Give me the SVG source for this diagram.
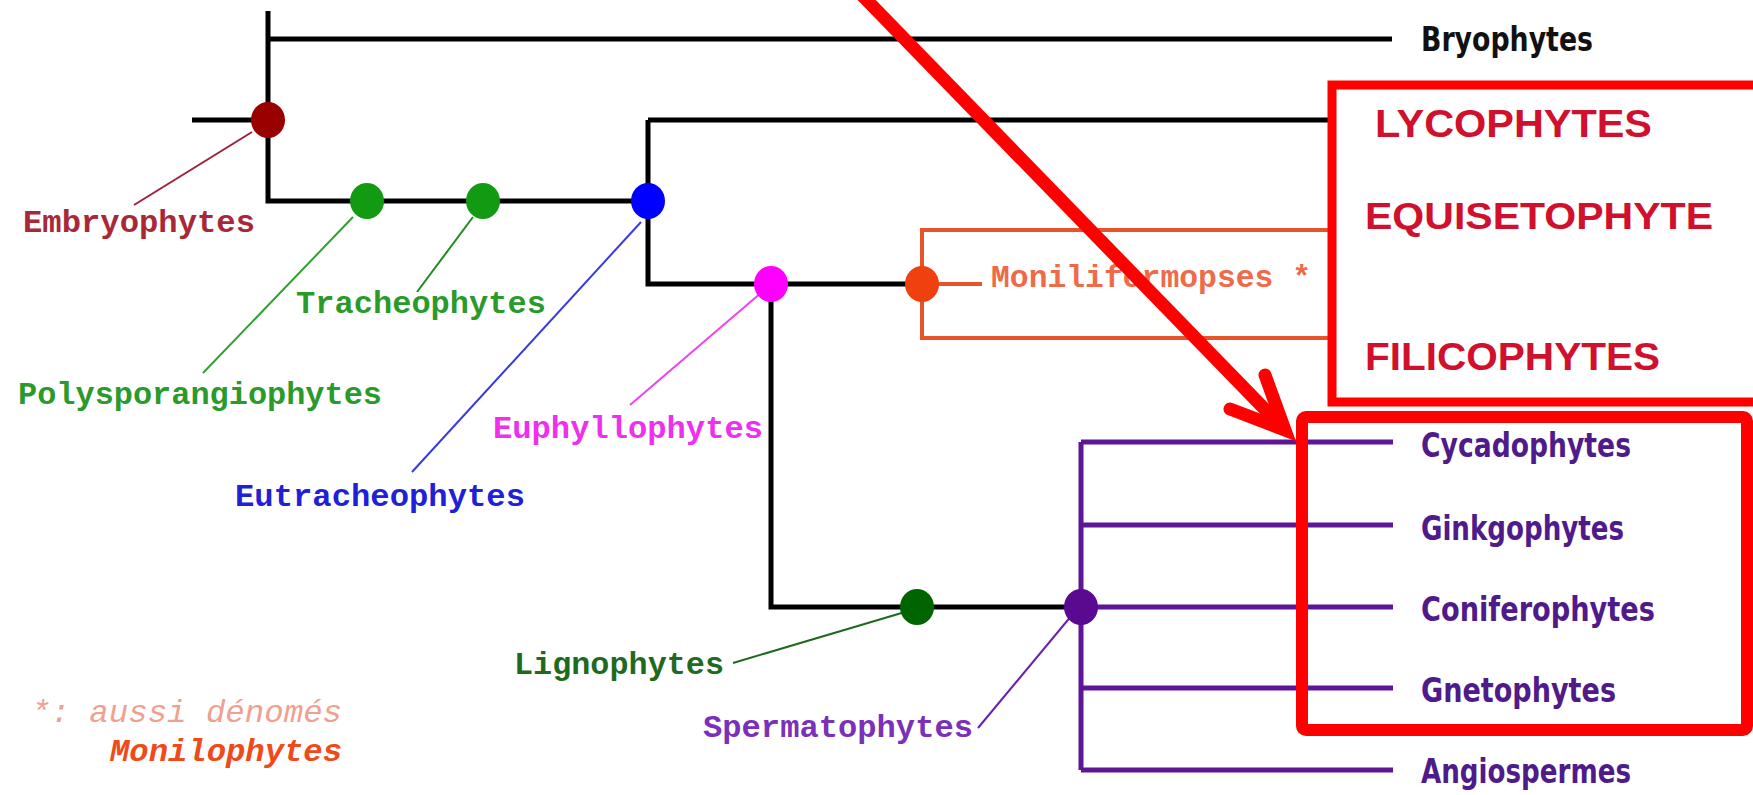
<svg xmlns="http://www.w3.org/2000/svg" width="1753" height="795" viewBox="0 0 1753 795">
<style>
.blk{stroke:#000;stroke-width:5;fill:none}
.pur{stroke:#5e1596;stroke-width:5;fill:none}
.org{stroke:#e8532a;stroke-width:4;fill:none}
.lead{stroke-width:2;fill:none}
.mono{font-family:"Liberation Mono","DejaVu Sans Mono",monospace;font-size:32px;font-weight:bold}
.cs{font-family:"DejaVu Sans Condensed","Liberation Sans Narrow","Liberation Sans",sans-serif;font-size:33px;font-weight:bold}
.big{font-family:"Liberation Sans",Arial,sans-serif;font-weight:bold;fill:#d0102c}
.red{stroke:#ff0000;fill:none}
</style>
<rect width="1753" height="795" fill="#fff"/>
<g id="connectors">
<path class="blk" d="M268,11 V201 H648 M268,39 H1392 M192,120 H268 M648,120 V284 H922 M648,120 H1330 M771,284 V607 H1081"/>
<path class="org" d="M1329,230 H922 V338 H1329 M922,284 H982"/>
<path class="pur" d="M1081,442 V770 M1081,442 H1393 M1081,525 H1393 M1081,607 H1393 M1081,688 H1393 M1081,770 H1393"/>
<line class="lead" stroke="#a0203a" x1="252" y1="132" x2="134" y2="205"/>
<line class="lead" stroke="#30a030" x1="353" y1="217" x2="203" y2="373"/>
<line class="lead" stroke="#208a20" x1="473" y1="217" x2="417" y2="292"/>
<line class="lead" stroke="#3a3ae0" x1="641" y1="222" x2="412" y2="472"/>
<line class="lead" stroke="#f040f0" x1="762" y1="292" x2="630" y2="405"/>
<line class="lead" stroke="#1e6a1e" x1="905" y1="612" x2="733" y2="663"/>
<line class="lead" stroke="#6a20b0" x1="1072" y1="615" x2="978" y2="728"/>
</g>
<g id="node-embryophytes"><ellipse cx="268" cy="120" rx="17" ry="18" fill="#990000"/><text class="mono" x="23" y="232" fill="#a82838" textLength="232" lengthAdjust="spacingAndGlyphs">Embryophytes</text></g>
<g id="node-polysporangiophytes"><ellipse cx="367" cy="201" rx="17" ry="18" fill="#129a12"/><text class="mono" x="18" y="404" fill="#2a9a2a" textLength="364" lengthAdjust="spacingAndGlyphs">Polysporangiophytes</text></g>
<g id="node-tracheophytes"><ellipse cx="483" cy="201" rx="17" ry="18" fill="#129a12"/><text class="mono" x="296" y="313" fill="#2a9a2a" textLength="250" lengthAdjust="spacingAndGlyphs">Tracheophytes</text></g>
<g id="node-eutracheophytes"><ellipse cx="648" cy="201" rx="17" ry="18" fill="#0000ff"/><text class="mono" x="235" y="506" fill="#2020d8" textLength="290" lengthAdjust="spacingAndGlyphs">Eutracheophytes</text></g>
<g id="node-euphyllophytes"><ellipse cx="771" cy="284" rx="17" ry="18" fill="#ff00ff"/><text class="mono" x="493" y="438" fill="#ee30ee" textLength="270" lengthAdjust="spacingAndGlyphs">Euphyllophytes</text></g>
<g id="node-moniliformopses"><ellipse cx="922" cy="284" rx="17" ry="18" fill="#f04010"/><text class="mono" x="991" y="287" fill="#ee6a48" textLength="320" lengthAdjust="spacingAndGlyphs">Moniliformopses *</text></g>
<g id="node-lignophytes"><ellipse cx="917" cy="607" rx="17" ry="18" fill="#006400"/><text class="mono" x="514" y="674" fill="#1f6a1f" textLength="210" lengthAdjust="spacingAndGlyphs">Lignophytes</text></g>
<g id="node-spermatophytes"><ellipse cx="1081" cy="607" rx="17" ry="18" fill="#5a0a90"/><text class="mono" x="703" y="737" fill="#7a30b8" textLength="270" lengthAdjust="spacingAndGlyphs">Spermatophytes</text></g>
<g id="leaf-bryophytes"><text class="cs" x="1421" y="51" fill="#111" textLength="172" lengthAdjust="spacingAndGlyphs">Bryophytes</text></g>
<g id="leaf-cycadophytes"><text class="cs" x="1421" y="457" fill="#4f1a8a" textLength="210" lengthAdjust="spacingAndGlyphs">Cycadophytes</text></g>
<g id="leaf-ginkgophytes"><text class="cs" x="1421" y="540" fill="#4f1a8a" textLength="203" lengthAdjust="spacingAndGlyphs">Ginkgophytes</text></g>
<g id="leaf-coniferophytes"><text class="cs" x="1421" y="621" fill="#4f1a8a" textLength="234" lengthAdjust="spacingAndGlyphs">Coniferophytes</text></g>
<g id="leaf-gnetophytes"><text class="cs" x="1421" y="702" fill="#4f1a8a" textLength="195" lengthAdjust="spacingAndGlyphs">Gnetophytes</text></g>
<g id="leaf-angiospermes"><text class="cs" x="1421" y="783" fill="#4f1a8a" textLength="210" lengthAdjust="spacingAndGlyphs">Angiospermes</text></g>
<g id="box-ptero">
<rect class="red" x="1332" y="85" width="440" height="317" stroke-width="9"/>
<text class="big" x="1375" y="137" font-size="39" textLength="277" lengthAdjust="spacingAndGlyphs">LYCOPHYTES</text>
<text class="big" x="1365" y="229" font-size="37" textLength="348" lengthAdjust="spacingAndGlyphs">EQUISETOPHYTE</text>
<text class="big" x="1365" y="370" font-size="38" textLength="295" lengthAdjust="spacingAndGlyphs">FILICOPHYTES</text>
</g>
<g id="box-gymno"><rect class="red" x="1302" y="417" width="445" height="313" rx="4" stroke-width="12"/></g>
<g id="footnote">
<text x="31" y="722" font-family="Liberation Mono,monospace" font-size="32" font-style="italic" fill="#f0a090" textLength="311" lengthAdjust="spacingAndGlyphs">*: aussi dénomés</text>
<text class="mono" x="110" y="761" font-style="italic" fill="#f04a1a" textLength="232" lengthAdjust="spacingAndGlyphs">Monilophytes</text>
</g>
<g id="arrow">
<line class="red" x1="855" y1="-12" x2="1283" y2="428" stroke-width="13"/>
<polyline class="red" points="1230,409 1285,430 1265,375" stroke-width="13" stroke-linecap="round" stroke-linejoin="miter"/>
</g>
</svg>
